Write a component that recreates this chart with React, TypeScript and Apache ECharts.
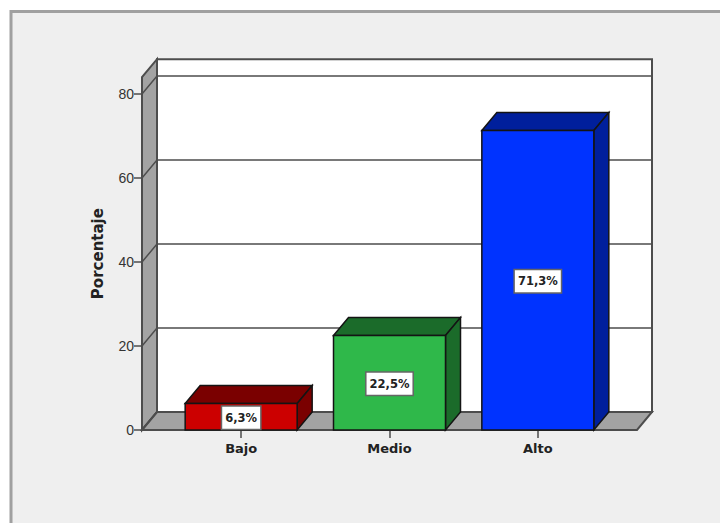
import React, { useEffect, useRef } from "react";
import * as echarts from "echarts";

const categories = ["Bajo", "Medio", "Alto"];
const percentages = [6.3, 22.5, 71.3];
const percentLabels = ["6,3%", "22,5%", "71,3%"];
const yTicks = [0, 20, 40, 60, 80];
const yAxisMax = 84;
const frontColors = ["#cc0000", "#2fb84a", "#0033ff"];
const shadeColors = ["#7a0000", "#1b6b2a", "#001f9c"];

// Oblique projection of the box depth, in pixels.
const DEPTH_X = 15;
const DEPTH_Y = 18;
const SIDE_MARGIN = 25;
const TICK_LENGTH = 8;
const FRAME_LINE = "#4d4d4d";
const WALL_FILL = "#a3a3a3";
const FONT = "'DejaVu Sans', sans-serif";

function renderFrame(params: any, api: any) {
  const cs = params.coordSys;
  const left = cs.x - SIDE_MARGIN;
  const right = cs.x + cs.width + SIDE_MARGIN;
  const base = cs.y + cs.height;
  const top = cs.y;
  const lineStyle = { stroke: FRAME_LINE, lineWidth: 1.5, fill: "none" };
  const children: any[] = [
    {
      type: "rect",
      shape: { x: left + DEPTH_X, y: top - DEPTH_Y, width: right - left, height: base - top },
      style: { fill: "#ffffff", stroke: FRAME_LINE, lineWidth: 2 },
    },
    {
      type: "polygon",
      shape: {
        points: [
          [left, base],
          [left + DEPTH_X, base - DEPTH_Y],
          [left + DEPTH_X, top - DEPTH_Y],
          [left, top],
        ],
      },
      style: { fill: WALL_FILL, stroke: FRAME_LINE, lineWidth: 2 },
    },
    {
      type: "polygon",
      shape: {
        points: [
          [left, base],
          [left + DEPTH_X, base - DEPTH_Y],
          [right + DEPTH_X, base - DEPTH_Y],
          [right, base],
        ],
      },
      style: { fill: WALL_FILL, stroke: FRAME_LINE, lineWidth: 2 },
    },
  ];
  // Each tick runs from the axis stub, across the side wall, and along the back wall.
  yTicks.forEach((tick) => {
    const y = api.coord([0, tick])[1];
    children.push({
      type: "polyline",
      shape: {
        points: [
          [left - TICK_LENGTH, y],
          [left, y],
          [left + DEPTH_X, y - DEPTH_Y],
          [right + DEPTH_X, y - DEPTH_Y],
        ],
      },
      style: lineStyle,
    });
  });
  return { type: "group", children };
}

function renderBox(params: any, api: any) {
  const index = params.dataIndex;
  const [cx, yTop] = api.coord([api.value(0), api.value(1)]);
  const yBase = api.coord([api.value(0), 0])[1];
  const halfWidth = (api.size([1, 0])[0] * 0.755) / 2;
  const x0 = cx - halfWidth;
  const x1 = cx + halfWidth;
  const edge = { stroke: "#141414", lineWidth: 1.5 };
  return {
    type: "group",
    children: [
      {
        type: "polygon",
        shape: {
          points: [
            [x0, yTop],
            [x0 + DEPTH_X, yTop - DEPTH_Y],
            [x1 + DEPTH_X, yTop - DEPTH_Y],
            [x1, yTop],
          ],
        },
        style: { fill: shadeColors[index], ...edge },
      },
      {
        type: "polygon",
        shape: {
          points: [
            [x1, yTop],
            [x1 + DEPTH_X, yTop - DEPTH_Y],
            [x1 + DEPTH_X, yBase - DEPTH_Y],
            [x1, yBase],
          ],
        },
        style: { fill: shadeColors[index], ...edge },
      },
      {
        type: "rect",
        shape: { x: x0, y: yTop, width: x1 - x0, height: yBase - yTop },
        style: { fill: frontColors[index], ...edge },
      },
      {
        type: "text",
        x: cx,
        y: (yTop + yBase) / 2 + 1,
        style: {
          text: percentLabels[index],
          fontFamily: FONT,
          fontWeight: "bold",
          fontSize: 11.5,
          fill: "#222222",
          align: "center",
          verticalAlign: "middle",
          backgroundColor: "#ffffff",
          borderColor: "#666666",
          borderWidth: 1.5,
          padding: [5, 3, 5, 3],
        },
      },
    ],
  };
}

export default function App() {
  const ref = useRef<HTMLDivElement>(null);

  useEffect(() => {
    const chart = echarts.init(ref.current!, null, { renderer: "svg" });
    chart.setOption({
      animation: false,
      backgroundColor: "#ffffff",
      graphic: [
        {
          type: "rect",
          z: -10,
          shape: { x: 11, y: 11.5, width: 720, height: 530 },
          style: { fill: "#efefef", stroke: "#a0a0a0", lineWidth: 3 },
        },
      ],
      grid: { left: 167, width: 445, top: 77.2, height: 352.8 },
      xAxis: {
        type: "category",
        data: categories,
        axisLine: { show: true, lineStyle: { color: FRAME_LINE, width: 2 } },
        axisTick: { show: true, alignWithLabel: true, length: 8, lineStyle: { color: FRAME_LINE, width: 1.5 } },
        axisLabel: { fontFamily: FONT, fontWeight: "bold", fontSize: 13, color: "#222222", margin: 12 },
      },
      yAxis: {
        type: "value",
        min: 0,
        max: yAxisMax,
        interval: 20,
        name: "Porcentaje",
        nameLocation: "middle",
        nameGap: 62,
        nameTextStyle: { fontFamily: FONT, fontWeight: "bold", fontSize: 15, color: "#222222" },
        axisLine: { show: false },
        axisTick: { show: false },
        axisLabel: {
          customValues: yTicks,
          fontFamily: "'Liberation Sans', sans-serif",
          fontSize: 14,
          color: "#333333",
          margin: 33,
        },
        splitLine: { show: false },
      },
      series: [
        { type: "custom", renderItem: renderFrame, data: [[0, 0]], silent: true, clip: false, z: 1 },
        {
          type: "custom",
          renderItem: renderBox,
          data: percentages.map((value, i) => [i, value]),
          silent: true,
          clip: false,
          z: 3,
        },
      ],
    });
    return () => chart.dispose();
  }, []);

  return <div ref={ref} style={{ position: "fixed", left: 0, top: 0, width: 720, height: 523 }} />;
}
